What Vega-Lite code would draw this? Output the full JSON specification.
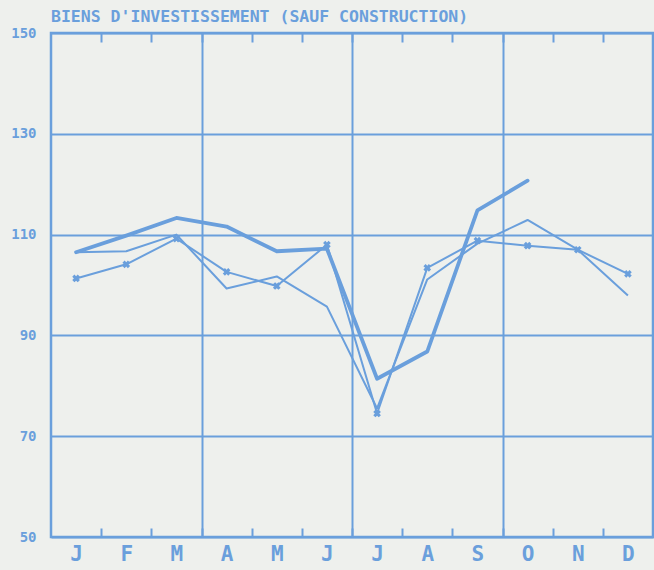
{
  "$schema": "https://vega.github.io/schema/vega-lite/v6.json",
  "autosize": {"type": "none"},
  "width": 602,
  "height": 504,
  "padding": {"left": 51, "top": 33, "right": 1, "bottom": 33},
  "background": "#eef0ed",
  "title": {
    "text": "BIENS D'INVESTISSEMENT (SAUF CONSTRUCTION)",
    "anchor": "start",
    "frame": "group",
    "font": "DejaVu Sans Mono",
    "fontSize": 16.5,
    "fontWeight": "bold",
    "color": "#6a9fdc",
    "baseline": "alphabetic",
    "offset": 11,
    "dy": 23
  },
  "config": {
    "view": {"stroke": "#6a9fdc", "strokeWidth": 2.5},
    "axis": {"labelColor": "#6a9fdc", "tickColor": "#6a9fdc", "gridColor": "#6a9fdc", "domainColor": "#6a9fdc"}
  },
  "data": {
    "values": [
      {"m": 1, "series": "A", "value": 106.5},
      {"m": 2, "series": "A", "value": 109.8},
      {"m": 3, "series": "A", "value": 113.3},
      {"m": 4, "series": "A", "value": 111.6},
      {"m": 5, "series": "A", "value": 106.7},
      {"m": 6, "series": "A", "value": 107.2},
      {"m": 7, "series": "A", "value": 81.4},
      {"m": 8, "series": "A", "value": 86.8},
      {"m": 9, "series": "A", "value": 114.8},
      {"m": 10, "series": "A", "value": 120.7},
      {"m": 1, "series": "B", "value": 101.3},
      {"m": 2, "series": "B", "value": 104.1},
      {"m": 3, "series": "B", "value": 109.2},
      {"m": 4, "series": "B", "value": 102.6},
      {"m": 5, "series": "B", "value": 99.8},
      {"m": 6, "series": "B", "value": 108.0},
      {"m": 7, "series": "B", "value": 74.5},
      {"m": 8, "series": "B", "value": 103.4},
      {"m": 9, "series": "B", "value": 108.8},
      {"m": 10, "series": "B", "value": 107.8},
      {"m": 11, "series": "B", "value": 107.0},
      {"m": 12, "series": "B", "value": 102.2},
      {"m": 1, "series": "C", "value": 106.5},
      {"m": 2, "series": "C", "value": 106.7},
      {"m": 3, "series": "C", "value": 110.0},
      {"m": 4, "series": "C", "value": 99.3},
      {"m": 5, "series": "C", "value": 101.7},
      {"m": 6, "series": "C", "value": 95.7},
      {"m": 7, "series": "C", "value": 75.5},
      {"m": 8, "series": "C", "value": 101.1},
      {"m": 9, "series": "C", "value": 108.2},
      {"m": 10, "series": "C", "value": 112.9},
      {"m": 11, "series": "C", "value": 107.0},
      {"m": 12, "series": "C", "value": 97.9}
    ]
  },
  "resolve": {"axis": {"x": "independent"}},
  "layer": [
    {
      "transform": [{"filter": "datum.series != 'A'"}],
      "mark": {"type": "line", "color": "#6a9fdc", "strokeWidth": 2, "strokeJoin": "round"},
      "encoding": {
        "x": {
          "field": "m", "type": "quantitative",
          "scale": {"domain": [0.5, 12.5], "nice": false, "zero": false},
          "axis": {
            "orient": "bottom", "values": [1.5, 2.5, 3.5, 4.5, 5.5, 6.5, 7.5, 8.5, 9.5, 10.5, 11.5],
            "labels": false, "domain": false, "ticks": true, "tickSize": -9, "tickWidth": 2,
            "grid": true, "gridWidth": 2, "minExtent": 0, "maxExtent": 0,
            "gridOpacity": {"condition": {"test": "datum.value == 3.5 || datum.value == 6.5 || datum.value == 9.5", "value": 1}, "value": 0},
            "title": null
          }
        },
        "y": {
          "field": "value", "type": "quantitative",
          "scale": {"domain": [50, 150], "nice": false, "zero": false},
          "axis": {
            "values": [50, 70, 90, 110, 130, 150],
            "ticks": false, "domain": false, "grid": true, "gridWidth": 2,
            "labelFont": "DejaVu Sans Mono", "labelFontSize": 14, "labelFontWeight": "bold",
            "labelPadding": 15, "title": null
          }
        },
        "detail": {"field": "series"}
      }
    },
    {
      "transform": [{"filter": "datum.series == 'A'"}],
      "mark": {"type": "line", "color": "#6a9fdc", "strokeWidth": 3.8, "strokeJoin": "round", "strokeCap": "round"},
      "encoding": {
        "x": {
          "field": "m", "type": "quantitative",
          "axis": {
            "orient": "bottom", "values": [1, 2, 3, 4, 5, 6, 7, 8, 9, 10, 11, 12],
            "labelExpr": "['J','F','M','A','M','J','J','A','S','O','N','D'][datum.value - 1]",
            "ticks": false, "domain": false, "grid": false,
            "labelFont": "DejaVu Sans Mono", "labelFontSize": 21, "labelFontWeight": "bold",
            "labelPadding": 6, "labelDx": 3, "title": null
          }
        },
        "y": {"field": "value", "type": "quantitative"}
      }
    },
    {
      "transform": [{"filter": "datum.series == 'B'"}],
      "mark": {"type": "point", "shape": "cross", "filled": true, "angle": 45, "size": 60, "color": "#6a9fdc", "opacity": 1},
      "encoding": {
        "x": {
          "field": "m", "type": "quantitative",
          "axis": {
            "orient": "top", "values": [1.5, 2.5, 3.5, 4.5, 5.5, 6.5, 7.5, 8.5, 9.5, 10.5, 11.5],
            "labels": false, "domain": false, "ticks": true, "tickSize": -9, "tickWidth": 2,
            "grid": false, "title": null, "minExtent": 0, "maxExtent": 0
          }
        },
        "y": {"field": "value", "type": "quantitative"}
      }
    }
  ]
}
